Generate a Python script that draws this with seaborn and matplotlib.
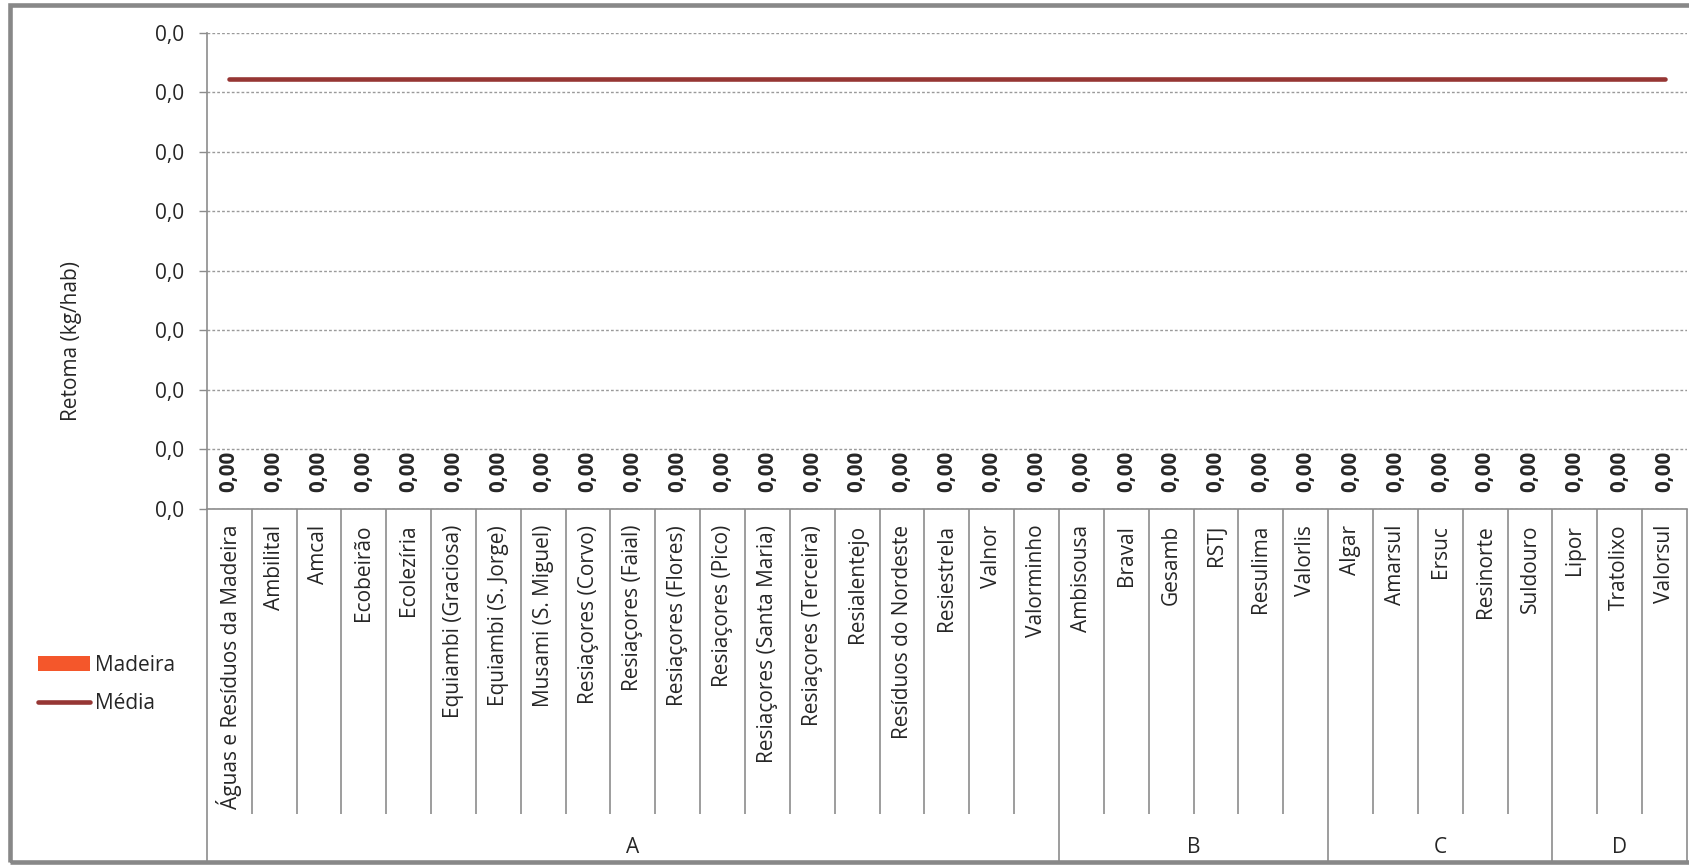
import numpy as np
import pandas as pd
import seaborn as sns
import matplotlib.pyplot as plt
import matplotlib.ticker as mticker
from matplotlib.patches import Patch, Rectangle
from matplotlib.lines import Line2D

# categories per group
group_a = ['Águas e Resíduos da Madeira', 'Ambilital', 'Amcal', 'Ecobeirão', 'Ecolezíria',
           'Equiambi (Graciosa)', 'Equiambi (S. Jorge)', 'Musami (S. Miguel)', 'Resiaçores (Corvo)',
           'Resiaçores (Faial)', 'Resiaçores (Flores)', 'Resiaçores (Pico)', 'Resiaçores (Santa Maria)',
           'Resiaçores (Terceira)', 'Resialentejo', 'Resíduos do Nordeste', 'Resiestrela', 'Valnor',
           'Valorminho']
group_b = ['Ambisousa', 'Braval', 'Gesamb', 'RSTJ', 'Resulima', 'Valorlis']
group_c = ['Algar', 'Amarsul', 'Ersuc', 'Resinorte', 'Suldouro']
group_d = ['Lipor', 'Tratolixo', 'Valorsul']
group_names = ['A', 'B', 'C', 'D']

# Madeira values (kg/hab)
madeira_a = [0.00, 0.00, 0.00, 0.00, 0.00, 0.00, 0.00, 0.00, 0.00, 0.00,
             0.00, 0.00, 0.00, 0.00, 0.00, 0.00, 0.00, 0.00, 0.00]
madeira_b = [0.00, 0.00, 0.00, 0.00, 0.00, 0.00]
madeira_c = [0.00, 0.00, 0.00, 0.00, 0.00]
madeira_d = [0.00, 0.00, 0.00]
media_value = 0.0361

y_max = 0.04
y_step = 0.005

groups = [group_a, group_b, group_c, group_d]
categories = group_a + group_b + group_c + group_d
values = madeira_a + madeira_b + madeira_c + madeira_d
df = pd.DataFrame({'Entidade': categories, 'Madeira': values,
                   'pos': np.arange(len(categories)), 'Média': media_value})

BAR_COLOR = '#F4572B'
LINE_COLOR = '#963634'
GRAY = '#8c8c8c'

sns.set_style('white')
plt.rcParams['font.family'] = ['Open Sans', 'DejaVu Sans']

fig = plt.figure(figsize=(16.89, 8.65), dpi=100)
W, H = 1689, 865
ax = fig.add_axes([206.8 / W, 1 - 508.8 / H, (1687 - 206.8) / W, (508.8 - 33) / H])

sns.barplot(data=df, x='Entidade', y='Madeira', color=BAR_COLOR, ax=ax, width=0.6)
sns.lineplot(data=df, x='pos', y='Média', color=LINE_COLOR, linewidth=3.3, ax=ax,
             solid_capstyle='round')

ax.bar_label(ax.containers[0], labels=[f"{v:.2f}".replace('.', ',') for v in values],
             rotation=90, padding=12.2, fontsize=14.8, fontweight='bold')

n = len(categories)
ax.set_xlim(-0.5, n - 0.5)
ax.set_ylim(0, y_max)
ax.set_yticks(np.arange(0, y_max + y_step / 2, y_step))
ax.yaxis.set_major_formatter(mticker.FuncFormatter(lambda v, p: f"{v:.1f}".replace('.', ',')))
ax.set_xticks(range(n))
ax.set_xticklabels(categories, rotation=90, fontsize=15)
ax.tick_params(axis='x', length=0, pad=11.5)
ax.tick_params(axis='y', length=6, color=GRAY, width=1, labelsize=15, pad=10, left=True)
ax.set_xlabel('')
ax.set_ylabel('')

ax.yaxis.grid(True, linestyle=(0, (2, 1.5)), color='#9a9a9a', linewidth=1)
ax.set_axisbelow(True)
for s in ['top', 'right']:
    ax.spines[s].set_visible(False)
for s in ['left', 'bottom']:
    ax.spines[s].set_color(GRAY)
    ax.spines[s].set_linewidth(1.2)

# category separators and group separators
trans = ax.get_xaxis_transform()
bounds = np.cumsum([0] + [len(g) for g in groups]) - 0.5
inner = [b for b in np.arange(0.5, n - 0.5) if b not in bounds]
ax.vlines(inner, -0.6415, 0, transform=trans, colors=GRAY, linewidth=1.2, clip_on=False)
ax.vlines(bounds, -0.7415, 0, transform=trans, colors=GRAY, linewidth=1.2, clip_on=False)
for name, lo, hi in zip(group_names, bounds[:-1], bounds[1:]):
    ax.text((lo + hi) / 2, -0.712, name, transform=trans, ha='center', va='center', fontsize=15)

fig.text(71 / W, 1 - 341 / H, 'Retoma (kg/hab)', rotation=90, ha='center', va='center', fontsize=15)

handles = [Patch(facecolor=BAR_COLOR, edgecolor='none', label='Madeira'),
           Line2D([0], [0], color=LINE_COLOR, linewidth=3.3, solid_capstyle='round', label='Média')]
fig.legend(handles=handles, loc='upper left', bbox_to_anchor=(37.7 / W, 1 - 655 / H),
           frameon=False, fontsize=15, handlelength=2.5, handletextpad=0.25,
           labelspacing=0.82, borderpad=0, borderaxespad=0)

fig.patches.append(Rectangle((9.5 / W, 1 - 862 / H), 1.1, (862 - 4.5) / H, transform=fig.transFigure,
                             fill=False, edgecolor='#888888', linewidth=3.3))

fig.savefig('out.png', dpi=100)
